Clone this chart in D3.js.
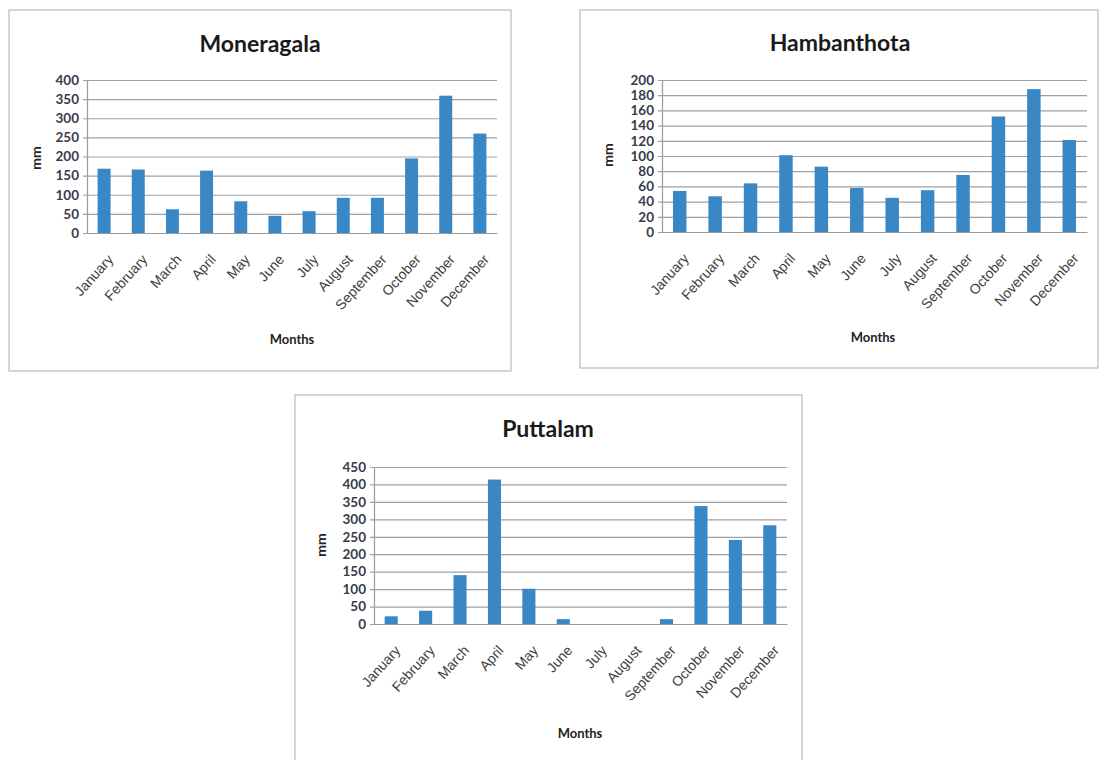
<!DOCTYPE html>
<html><head><meta charset="utf-8">
<script src="https://cdn.jsdelivr.net/npm/d3@7/dist/d3.min.js"></script>
<style>
body{margin:0;background:#fff;}
svg{display:block;font-family:Lato,"Open Sans",sans-serif;}
</style></head>
<body><svg id="c" width="1100" height="760"></svg>
<script>
const months = ["January","February","March","April","May","June","July","August","September","October","November","December"];
const moneragala = [168,166,62,163,83,45,57,92,92,195,359,260];
const hambanthota = [54,47,64,101,86,58,45,55,75,152,188,121];
const puttalam = [22,38,140,414,101,14,0,0,14,338,241,283];
const moneragalaTicks = [0,50,100,150,200,250,300,350,400];
const hambanthotaTicks = [0,20,40,60,80,100,120,140,160,180,200];
const puttalamTicks = [0,50,100,150,200,250,300,350,400,450];

const svg = d3.select("#c");
const BAR = "#3a87c6";

function panel(o){
  const g = svg.append("g");
  g.append("rect").attr("x",o.fx).attr("y",o.fy).attr("width",o.fw).attr("height",o.fh)
    .attr("fill","#fff").attr("stroke","#c8c8c8").attr("stroke-width",1.5);
  g.append("text").attr("x",o.tx).attr("y",o.ty).attr("text-anchor","middle")
    .attr("font-size",23).attr("font-weight","bold").attr("fill","#1a1a1a").text(o.title);
  const x = d3.scaleBand().domain(months).range([o.x0,o.x1]).paddingInner(0.62).paddingOuter(0.31);
  const y = d3.scaleLinear().domain([0,o.max]).range([o.y0,o.y1]);
  const ya = d3.axisLeft(y).tickValues(o.ticks).tickSize(-(o.x1-o.x0)).tickPadding(8).tickSizeOuter(0);
  const gy = g.append("g").attr("transform",`translate(${o.x0},0)`).call(ya);
  gy.select(".domain").attr("stroke","#9a9a9a").attr("stroke-width",1.2);
  gy.selectAll(".tick line").attr("stroke","#a0a0a0").attr("stroke-width",1.2).attr("x1",-4);
  gy.selectAll(".tick text").attr("font-size",13.5).attr("font-weight","bold").attr("fill","#3a3a4a")
    .attr("font-family","Lato,sans-serif");
  g.selectAll("rect.bar").data(o.values).join("rect").attr("class","bar")
    .attr("x",(d,i)=>x(months[i])).attr("width",x.bandwidth())
    .attr("y",d=>y(d)).attr("height",d=>y(0)-y(d)).attr("fill",BAR);
  const xa = d3.axisBottom(x).tickSize(0).tickPadding(0);
  const gx = g.append("g").attr("transform",`translate(0,${o.y0})`).call(xa);
  gx.select(".domain").attr("stroke","#9a9a9a").attr("stroke-width",1.2);
  gx.selectAll(".tick text").attr("font-size",14).attr("fill","#404040")
    .attr("text-anchor","end").attr("dy",0)
    .attr("transform","translate(10,27) rotate(-48)");
  g.append("text").attr("transform",`translate(${o.mx},${o.my}) rotate(-90)`)
    .attr("text-anchor","middle").attr("font-size",14).attr("font-weight","bold").attr("fill","#222").text("mm");
  g.append("text").attr("x",o.lx).attr("y",o.ly).attr("text-anchor","middle")
    .attr("font-size",13).attr("font-weight","bold").attr("fill","#222").text("Months");
}

panel({title:"Moneragala",values:moneragala,ticks:moneragalaTicks,max:400,
  fx:9,fy:10,fw:502,fh:361,tx:260,ty:52,x0:87,x1:497,y0:233,y1:80,mx:41,my:158,lx:292,ly:344});
panel({title:"Hambanthota",values:hambanthota,ticks:hambanthotaTicks,max:200,
  fx:580,fy:10,fw:518,fh:358,tx:840,ty:51,x0:662,x1:1087,y0:232,y1:80,mx:613,my:155,lx:873,ly:342});
panel({title:"Puttalam",values:puttalam,ticks:puttalamTicks,max:450,
  fx:295,fy:395,fw:507,fh:380,tx:548,ty:437,x0:374,x1:787,y0:624,y1:467,mx:326,my:545,lx:580,ly:738});
</script></body></html>
